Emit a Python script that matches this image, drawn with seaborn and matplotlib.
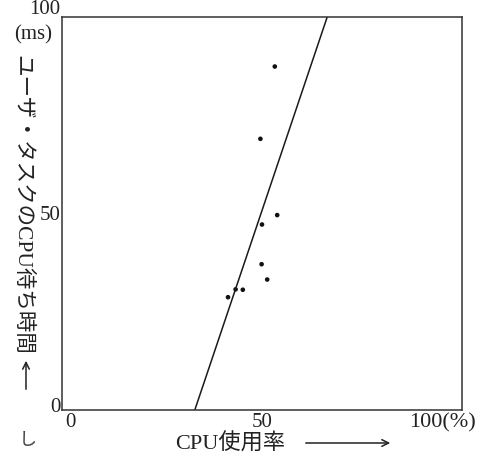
import matplotlib
matplotlib.use("Agg")
import matplotlib.pyplot as plt
import matplotlib.transforms as mtransforms
import seaborn as sns
import pandas as pd

# data
cpu_usage = [53.2, 49.6, 53.8, 50.0, 49.9, 51.3, 43.4, 45.2, 41.5]
wait_time = [87.4, 69.0, 49.6, 47.2, 37.1, 33.2, 30.7, 30.6, 28.7]
line_x = [33.2, 66.3]
line_y = [0, 100]
x_ticks = [0, 50, 100]
x_tick_labels = ["0", "50", "100(%)"]
y_ticks = [0, 50, 100]
y_tick_labels = ["0", "50", "100"]
x_label = "CPU使用率"
y_label = "ユーザ・タスクのCPU待ち時間"
y_unit = "(ms)"

sns.set_theme(style="white")
fam = ["Liberation Serif", "Noto Sans CJK JP", "DejaVu Sans"]
plt.rcParams["font.family"] = fam

W, H = 496, 458
fig = plt.figure(figsize=(W / 100, H / 100), dpi=100)
ax = fig.add_axes([62 / W, 1 - 410 / H, 400 / W, 393 / H])

pts = pd.DataFrame({"cpu": cpu_usage, "wait": wait_time})
ln = pd.DataFrame({"x": line_x, "y": line_y})
sns.lineplot(data=ln, x="x", y="y", ax=ax, color="#1a1a1a", linewidth=1.1)
sns.scatterplot(data=pts, x="cpu", y="wait", ax=ax, color="#111111", s=11,
                edgecolor="none")

ax.set_xlim(0, 100)
ax.set_ylim(0, 100)
for s in ax.spines.values():
    s.set_color("#333333")
    s.set_linewidth(1.1)
ax.set_xticks(x_ticks)
ax.set_xticklabels(x_tick_labels)
ax.set_yticks(y_ticks)
ax.set_yticklabels(y_tick_labels)
ax.tick_params(axis="both", direction="in", length=5, width=1,
               color="#333333", labelsize=15, labelcolor="#222222", pad=1)
ax.tick_params(axis="x", pad=2)

def shift(lab, dx, dy):
    lab.set_transform(lab.get_transform() +
                      mtransforms.ScaledTranslation(dx / 100, dy / 100,
                                                    fig.dpi_scale_trans))

xl = ax.get_xticklabels()
shift(xl[0], 8, 0)
shift(xl[2], -20, 0)
xl[2].set_fontsize(16)
yl = ax.get_yticklabels()
yl[-1].set_va("bottom")
shift(yl[-1], 0, -2)
shift(yl[0], 0, 5)
ax.set_xlabel("")
ax.set_ylabel("")

# axis titles
fig.text(230 / W, 1 - 444 / H, x_label, ha="center", va="center",
         fontsize=16, color="#222222", family=fam)
fig.text(33 / W, 1 - 35 / H, y_unit, ha="center", va="center",
         fontsize=15, color="#222222", family=fam)
fig.text(21 / W, 1 - 205 / H, y_label, ha="center", va="center",
         rotation=-90, fontsize=15.5, color="#222222", family=fam)
fig.text(28 / W, 1 - 440 / H, "し", ha="center", va="center",
         fontsize=13, color="#444444", family=fam)

ax.annotate("", xy=(393 / W, 1 - 443 / H), xytext=(303 / W, 1 - 443 / H),
            xycoords="figure fraction", textcoords="figure fraction",
            arrowprops=dict(arrowstyle="->", color="#222222", lw=1.1))
ax.annotate("", xy=(26 / W, 1 - 358 / H), xytext=(26 / W, 1 - 392 / H),
            xycoords="figure fraction", textcoords="figure fraction",
            arrowprops=dict(arrowstyle="->", color="#222222", lw=1.1))

fig.savefig("out.png", dpi=100, facecolor="white")
